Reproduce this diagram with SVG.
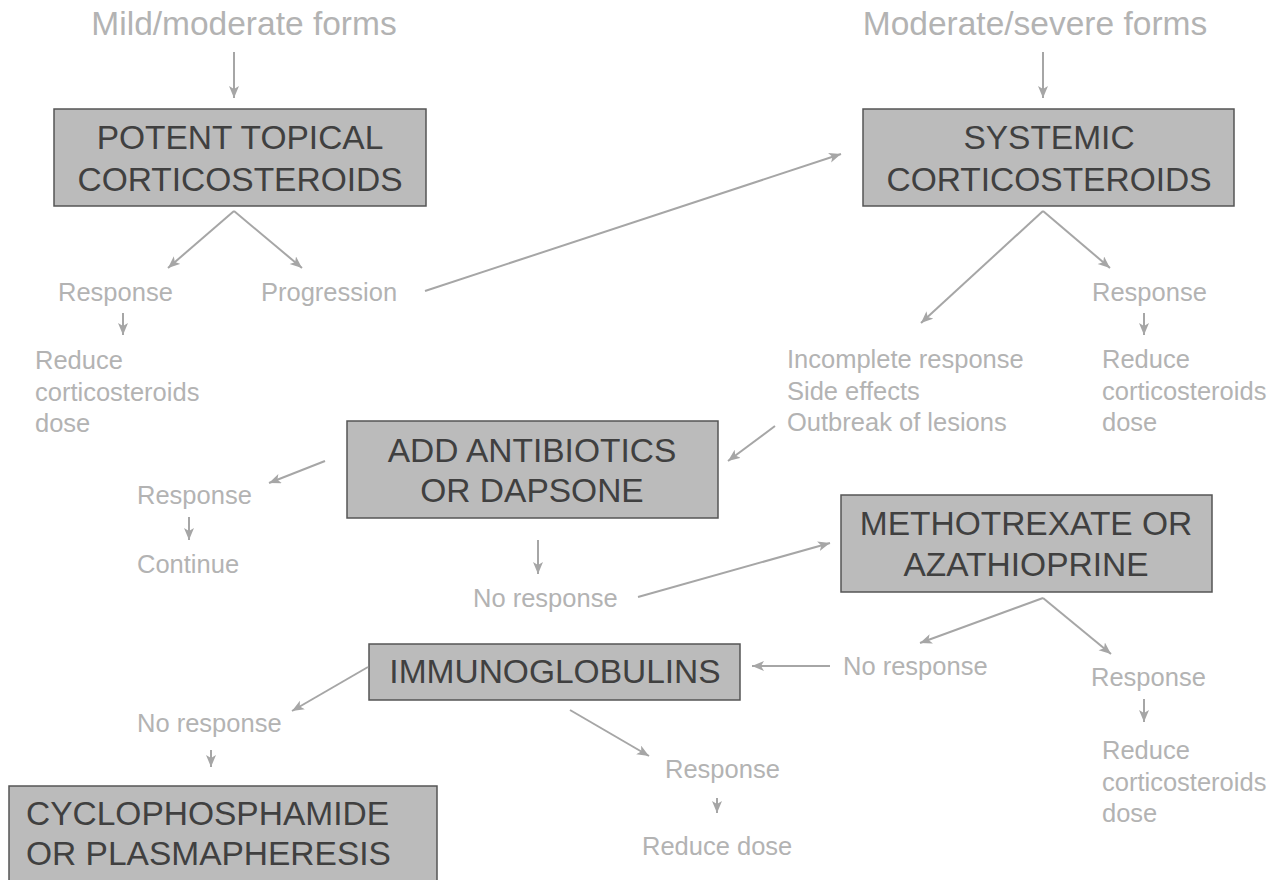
<svg xmlns="http://www.w3.org/2000/svg" width="1280" height="880" viewBox="0 0 1280 880">
<defs>
<marker id="ah" markerUnits="userSpaceOnUse" markerWidth="14" markerHeight="12" refX="12" refY="5" orient="auto">
<path d="M0,0 L12,5 L0,10 L3,5 z" fill="#a6a6a6"/>
</marker>
<style>
.box{fill:#bbbbbb;stroke:#555555;stroke-width:1.5}
.bt{font-family:"Liberation Sans",Arial,sans-serif;font-size:33.5px;fill:#404040}
.tt{font-family:"Liberation Sans",Arial,sans-serif;font-size:33.5px;fill:#b3b3b3}
.st{font-family:"Liberation Sans",Arial,sans-serif;font-size:25.5px;fill:#b3b3b3}
.c line{stroke:#a6a6a6;stroke-width:2;marker-end:url(#ah)}
</style>
</defs>
<rect width="1280" height="880" fill="#ffffff"/>
<g id="labels">
<text class="tt" x="244" y="35" text-anchor="middle">Mild/moderate forms</text>
<text class="tt" x="1035" y="35" text-anchor="middle">Moderate/severe forms</text>
<text class="st" x="58" y="301">Response</text>
<text class="st" x="261" y="301">Progression</text>
<text class="st" x="1092" y="301">Response</text>
<text class="st" x="35" y="369">Reduce</text>
<text class="st" x="35" y="401">corticosteroids</text>
<text class="st" x="35" y="432">dose</text>
<text class="st" x="787" y="368">Incomplete response</text>
<text class="st" x="787" y="400">Side effects</text>
<text class="st" x="787" y="431">Outbreak of lesions</text>
<text class="st" x="1102" y="368">Reduce</text>
<text class="st" x="1102" y="400">corticosteroids</text>
<text class="st" x="1102" y="431">dose</text>
<text class="st" x="137" y="504">Response</text>
<text class="st" x="137" y="573">Continue</text>
<text class="st" x="473" y="607">No response</text>
<text class="st" x="843" y="675">No response</text>
<text class="st" x="1091" y="686">Response</text>
<text class="st" x="1102" y="759">Reduce</text>
<text class="st" x="1102" y="791">corticosteroids</text>
<text class="st" x="1102" y="822">dose</text>
<text class="st" x="137" y="732">No response</text>
<text class="st" x="665" y="778">Response</text>
<text class="st" x="642" y="855">Reduce dose</text>
</g>
<g id="node-topical">
<rect class="box" x="54" y="109" width="372" height="97"/>
<text class="bt" x="240" y="149" text-anchor="middle">POTENT TOPICAL</text>
<text class="bt" x="240" y="191" text-anchor="middle">CORTICOSTEROIDS</text>
</g>
<g id="node-systemic">
<rect class="box" x="863" y="109" width="371" height="97"/>
<text class="bt" x="1049" y="149" text-anchor="middle">SYSTEMIC</text>
<text class="bt" x="1049" y="191" text-anchor="middle">CORTICOSTEROIDS</text>
</g>
<g id="node-antibiotics">
<rect class="box" x="347" y="421" width="371" height="97"/>
<text class="bt" x="532" y="462" text-anchor="middle">ADD ANTIBIOTICS</text>
<text class="bt" x="532" y="502" text-anchor="middle">OR DAPSONE</text>
</g>
<g id="node-methotrexate">
<rect class="box" x="841" y="495" width="371" height="97"/>
<text class="bt" x="1026" y="535" text-anchor="middle">METHOTREXATE OR</text>
<text class="bt" x="1026" y="576" text-anchor="middle">AZATHIOPRINE</text>
</g>
<g id="node-immunoglobulins">
<rect class="box" x="369" y="644" width="371" height="56"/>
<text class="bt" x="555" y="683" text-anchor="middle">IMMUNOGLOBULINS</text>
</g>
<g id="node-cyclophosphamide">
<rect class="box" x="9" y="786" width="428" height="100"/>
<text class="bt" x="26" y="825">CYCLOPHOSPHAMIDE</text>
<text class="bt" x="26" y="865">OR PLASMAPHERESIS</text>
</g>
<g id="connectors" class="c">
<line x1="234" y1="52" x2="234" y2="98"/>
<line x1="1043" y1="52" x2="1043" y2="98"/>
<line x1="234" y1="211" x2="168" y2="268"/>
<line x1="234" y1="211" x2="302" y2="268"/>
<line x1="425" y1="291" x2="841" y2="154"/>
<line x1="1043" y1="211" x2="921" y2="323"/>
<line x1="1043" y1="211" x2="1110" y2="268"/>
<line x1="123" y1="313" x2="123" y2="335"/>
<line x1="1144" y1="313" x2="1144" y2="335"/>
<line x1="775" y1="426" x2="728" y2="461"/>
<line x1="325" y1="461" x2="269" y2="483"/>
<line x1="189" y1="517" x2="189" y2="540"/>
<line x1="538" y1="540" x2="538" y2="574"/>
<line x1="638" y1="597" x2="830" y2="543"/>
<line x1="1043" y1="598" x2="920" y2="643"/>
<line x1="1043" y1="598" x2="1111" y2="654"/>
<line x1="1144" y1="699" x2="1144" y2="722"/>
<line x1="830" y1="666" x2="752" y2="666"/>
<line x1="368" y1="667" x2="292" y2="711"/>
<line x1="211" y1="750" x2="211" y2="767"/>
<line x1="570" y1="710" x2="649" y2="756"/>
<line x1="717" y1="798" x2="717" y2="813"/>
</g>
</svg>
